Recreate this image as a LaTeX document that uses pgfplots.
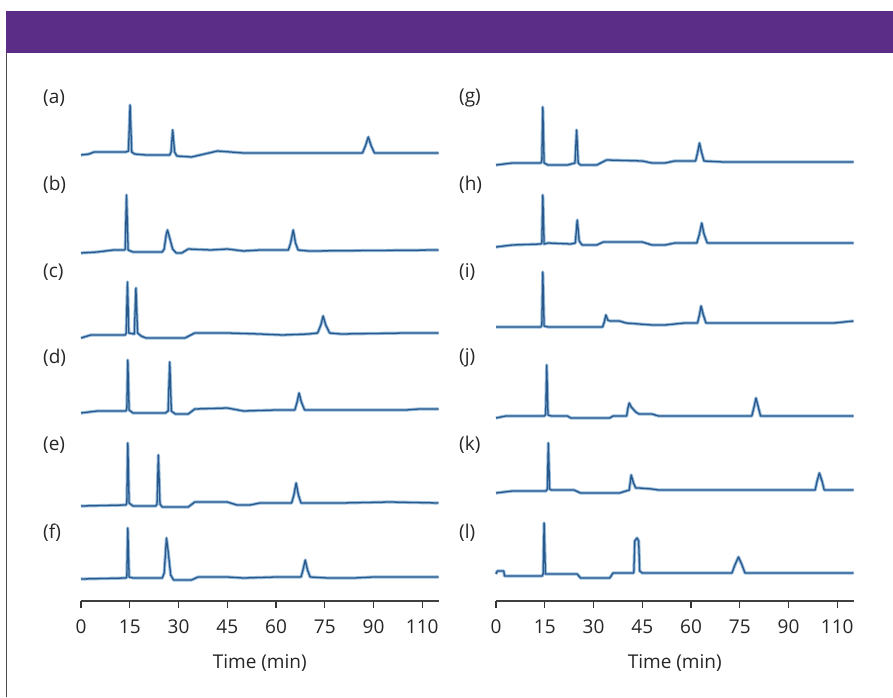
\documentclass[border=0pt]{standalone}
\usepackage{fontspec}
\setmainfont{Open Sans}
\usepackage{pgfplots}
\pgfplotsset{compat=1.18}

\definecolor{hdr}{RGB}{92,45,135}
\definecolor{trace}{RGB}{40,88,140}
\definecolor{halo}{RGB}{150,188,220}

\pgfplotsset{
  chrom/.style={
    scale only axis, width=357.5bp, height=521bp,
    xmin=0, xmax=110, ymin=0, ymax=521,
    axis x line=bottom, axis y line=none,
    axis line style={-, line width=1.6bp, black!75},
    xtick={0,15,30,45,60,75,90,105},
    xticklabels={0,15,30,45,60,75,90,110},
    tick align=outside, major tick length=7bp,
    tick style={line width=1.3bp, black!80},
    /pgf/number format/assume math mode=true,
    tick label style={font=\fontsize{19bp}{23bp}\selectfont, text=black!85},
    xticklabel style={yshift=-8bp},
    label style={font=\fontsize{19bp}{23bp}\selectfont, text=black!85},
    xlabel style={yshift=-14bp},
    xlabel={Time (min)},
    clip=false,
  },
  tr/.style={trace, line width=1.3bp, line join=round,
    preaction={draw, halo, line width=3.2bp, line join=round}},
}

\begin{document}
\begin{tikzpicture}
\fill[white] (0,0) rectangle (893bp,-697bp);
\fill[hdr] (6bp,-11bp) rectangle (893bp,-53bp);
\draw[line width=1.5bp, black!70] (6.5bp,-53bp) -- (6.5bp,-697bp);

% panel labels
\foreach \l/\y in {a/98,b/185,c/272,d/358,e/445,f/533}
  \node[anchor=west, inner sep=0pt, font=\fontsize{19bp}{23bp}\selectfont, text=black!85]
    at (43bp,-\y bp) {(\l)};
\foreach \l/\y in {g/98,h/185,i/272,j/358,k/445,l/533}
  \node[anchor=west, inner sep=0pt, font=\fontsize{19bp}{23bp}\selectfont, text=black!85]
    at (459bp,-\y bp) {(\l)};

% left panel: traces (a)-(f)
\begin{axis}[chrom, at={(81bp,-601bp)}, anchor=south west]
% (a)
\addplot[tr] coordinates {(0,446)(2.5,447)(4,449)(13.8,449)(14.6,450)(15.1,496)(15.6,449)(16.5,447)(20,446)(27.3,446)(27.7,449)(28.2,471)(28.8,449)(29.5,445)(34,444)(38,447)(42,450)(46,449)(50,448)(86.6,448)(87.5,455)(88.4,464)(89.3,455)(90.3,448)(110,448)};
% (b)
\addplot[tr] coordinates {(0,348)(5,349)(10,351)(13.4,351)(13.6,352)(14,406)(14.5,351)(16,349)(25,349)(25.6,352)(26.2,366)(26.6,371)(27.2,364)(28.2,352)(29.3,348)(31,348)(33,352)(40,351)(45,352)(50,350)(55,351)(63.8,351)(64.5,358)(65.3,371)(66,358)(66.8,351)(70,350)(110,351)};
% (c)
\addplot[tr] coordinates {(0,263)(3,266)(13.6,266)(13.9,268)(14.3,319)(14.7,268)(16.4,267)(16.9,313)(17.4,268)(18.5,265)(20,263)(32,263)(35,268)(45,268)(55,267)(62,266)(70,267)(72.8,268)(73.8,276)(74.5,285)(75.3,276)(76.5,268)(80,267)(100,268)(110,268)};
% (d)
\addplot[tr] coordinates {(0,188)(5,190)(13.8,190)(14.1,192)(14.4,241)(14.8,191)(16,188)(26,188)(26.8,190)(27.3,239)(27.8,190)(29,187)(33,187)(35,192)(45,193)(50,190)(60,191)(65.8,191)(66.5,199)(67.1,208)(67.8,199)(68.8,191)(80,191)(100,191)(104,192)(110,192)};
% (e)
\addplot[tr] coordinates {(0,95)(13.8,96)(14.1,98)(14.4,158)(14.8,98)(16,95)(23,95)(23.4,97)(23.8,146)(24.3,97)(25,94)(33,94)(35,99)(45,99)(48,96)(52,96)(55,98)(64.8,98)(65.5,106)(66.2,118)(66.9,106)(67.7,98)(80,98)(95,99)(110,98)};
% (f)
\addplot[tr] coordinates {(0,22)(13.8,23)(14.1,24)(14.4,73)(14.8,24)(16,23)(25,23)(25.6,28)(26.3,63)(26.8,50)(27.6,26)(28.5,21)(34,21)(36,24)(45,24)(50,23)(60,24)(67.7,24)(68.3,31)(69,41)(69.7,31)(70.5,24)(76,23)(84,23)(90,24)(110,24)};
\end{axis}

% right panel: traces (g)-(l)
\begin{axis}[chrom, at={(496bp,-601bp)}, anchor=south west]
% (g)
\addplot[tr] coordinates {(0,436)(5,438)(13.8,438)(14.1,440)(14.4,494)(14.8,438)(16,436)(22,436)(24.3,438)(24.8,471)(25.3,438)(26,436)(31,436)(34,441)(45,440)(48,438)(52,438)(55,440)(61.4,440)(62,448)(62.6,458)(63.3,448)(64,440)(70,439)(90,439)(110,439)};
% (h)
\addplot[tr] coordinates {(0,354)(5,356)(13.8,357)(14.1,358)(14.4,406)(14.8,357)(16,358)(23,357)(24.4,358)(25,381)(25.6,360)(26.5,356)(31,356)(33,359)(45,359)(48,356)(52,356)(55,358)(61.8,358)(62.6,367)(63.3,378)(64,367)(65,358)(80,358)(110,358)};
% (i)
\addplot[tr] coordinates {(0,274)(13.8,274)(14.1,276)(14.4,329)(14.8,275)(16,274)(32.8,274)(33.4,280)(33.8,286)(34.4,281)(35,280)(38,280)(40,278)(48,276)(52,276)(58,278)(62,278)(62.6,286)(63.1,295)(63.8,286)(64.6,278)(70,278)(104,278)(110,280)};
% (j)
\addplot[tr] coordinates {(0,183)(3,185)(14.9,185)(15.3,187)(15.6,236)(16,186)(17,185)(22,185)(23,183)(35,183)(36,185)(40.2,185)(40.6,193)(41,198)(41.6,194)(43,189)(44,187)(48,187)(50,185)(78.7,185)(79.4,194)(80,203)(80.7,194)(81.4,185)(110,185)};
% (k)
\addplot[tr] coordinates {(0,108)(5,110)(15.4,110)(15.8,112)(16.1,158)(16.5,112)(17,111)(24,111)(26,108)(38,108)(40,110)(41,111)(41.6,126)(42.3,118)(43,113)(44,113)(48,112)(50,111)(98.2,111)(98.8,120)(99.5,128)(100.3,120)(101,111)(110,111)};
% (l)
\addplot[tr] coordinates {(0,27)(0.4,30)(2.4,30)(2.6,25)(14.2,25)(14.5,27)(14.8,78)(15.2,27)(17,27)(25,27)(26,23)(35,23)(36,28)(42.4,28)(42.7,60)(43.4,63)(43.9,60)(44.2,30)(45,28)(72.6,28)(73.5,36)(74.6,44)(75.7,36)(76.6,28)(110,28)};
\end{axis}
\end{tikzpicture}
\end{document}
